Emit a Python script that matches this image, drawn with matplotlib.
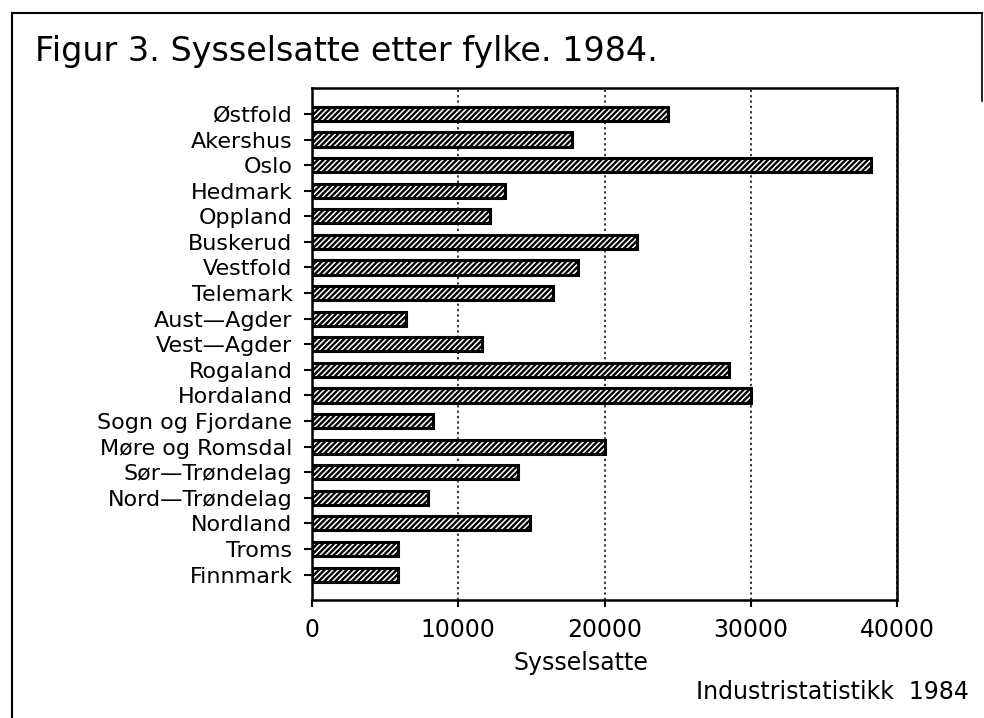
import matplotlib.pyplot as plt
from matplotlib.lines import Line2D

plt.rcParams["font.family"] = ["DejaVu Sans"]
plt.rcParams["hatch.linewidth"] = 1.7

fylker = ["Østfold", "Akershus", "Oslo", "Hedmark", "Oppland", "Buskerud",
          "Vestfold", "Telemark", "Aust\u2014Agder", "Vest\u2014Agder", "Rogaland",
          "Hordaland", "Sogn og Fjordane", "Møre og Romsdal", "Sør\u2014Trøndelag",
          "Nord\u2014Trøndelag", "Nordland", "Troms", "Finnmark"]
sysselsatte = [24300, 17800, 38200, 13200, 12200, 22200, 18200, 16500, 6400,
               11600, 28500, 30000, 8300, 20000, 14100, 7900, 14900, 5900, 5900]
x_ticks = [0, 10000, 20000, 30000, 40000]

fig = plt.figure(figsize=(9.84, 7.18), dpi=100)
ax = fig.add_axes([0.317, 0.164, 0.595, 0.713])

pos = list(range(len(fylker)))
ax.barh(pos, sysselsatte, height=0.55, color="white", edgecolor="black",
        linewidth=2.2, hatch="//////", zorder=3)

ax.set_xlim(0, 40000)
ax.set_ylim(len(fylker), -1)
ax.set_yticks(pos)
ax.set_yticklabels(fylker, fontsize=16)
ax.set_xticks(x_ticks)
ax.set_xticklabels([str(t) for t in x_ticks], fontsize=17)
ax.tick_params(axis="y", length=6, width=1.5, pad=8)
ax.tick_params(axis="x", length=5, width=1.5, pad=8)
ax.xaxis.grid(True, linestyle=(0, (1.5, 2)), color="black", linewidth=1.1)
ax.set_axisbelow(True)
for s in ax.spines.values():
    s.set_linewidth(1.8)

fig.text(0.036, 0.928, "Figur 3. Sysselsatte etter fylke. 1984.", fontsize=24,
         va="center", ha="left")
fig.text(0.59, 0.077, "Sysselsatte", fontsize=17, ha="center", va="center")
fig.text(0.985, 0.036, "Industristatistikk  1984", fontsize=17, ha="right", va="center")

# outer frame of the scanned page
fig.add_artist(Line2D([0.012, 0.012], [0.0, 0.982], color="black", lw=1.5))
fig.add_artist(Line2D([0.012, 0.998], [0.982, 0.982], color="black", lw=1.5))
fig.add_artist(Line2D([0.998, 0.998], [0.86, 0.982], color="black", lw=1.2))

fig.savefig("out.png", dpi=100)
